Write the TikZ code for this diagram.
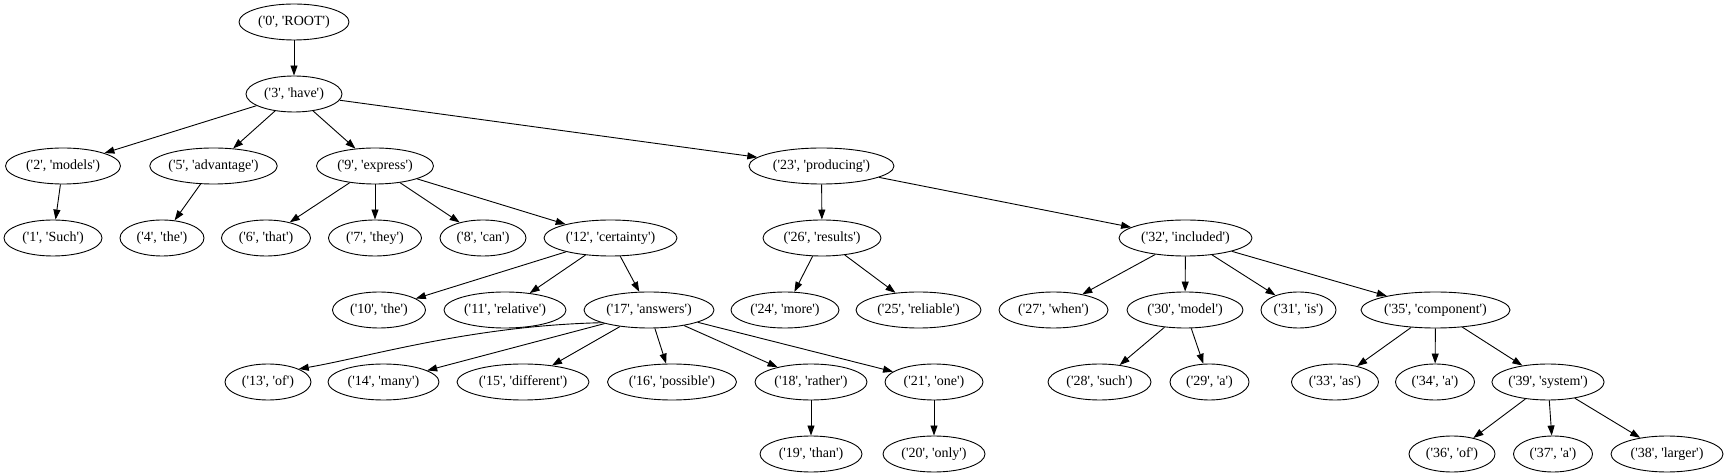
\documentclass[tikz,border=0pt]{standalone}
\usepackage{fontspec}
\setmainfont{Liberation Serif}
\usetikzlibrary{shapes.geometric,arrows.meta}
\newcommand\gq{\textquotesingle}
\newcommand\lab[2]{(\gq#1\gq, \gq#2\gq)}
\tikzset{
  tok/.style={ellipse,draw,line width=0.9pt,minimum height=36pt,inner sep=0pt,
    font=\fontsize{14}{16}\selectfont},
  dep/.style={line width=0.9pt,-{Triangle[length=10pt,width=7pt]}}
}
\begin{document}
\begin{tikzpicture}[x=1pt,y=1pt]
\useasboundingbox (0,0) rectangle (1728,476);
% rank y (image): 22,94,166,238,310,382,454 -> tikz 454,382,310,238,166,94,22
\node[tok,minimum width=110] (n0) at (294,454) {\lab{0}{ROOT}};
\node[tok,minimum width=96] (n3) at (294,382) {\lab{3}{have}};
\node[tok,minimum width=115] (n2) at (63,310) {\lab{2}{models}};
\node[tok,minimum width=115] (n5) at (213.5,310) {\lab{5}{advantage}};
\node[tok,minimum width=117] (n9) at (375,310) {\lab{9}{express}};
\node[tok,minimum width=145] (n23) at (821.5,310) {\lab{23}{producing}};
\node[tok,minimum width=98] (n1) at (53,238) {\lab{1}{Such}};
\node[tok,minimum width=84] (n4) at (162,238) {\lab{4}{the}};
\node[tok,minimum width=89] (n6) at (266,238) {\lab{6}{that}};
\node[tok,minimum width=93] (n7) at (375,238) {\lab{7}{they}};
\node[tok,minimum width=86] (n8) at (483,238) {\lab{8}{can}};
\node[tok,minimum width=133] (n12) at (610.5,238) {\lab{12}{certainty}};
\node[tok,minimum width=118] (n26) at (822,238) {\lab{26}{results}};
\node[tok,minimum width=133] (n32) at (1185.5,238) {\lab{32}{included}};
\node[tok,minimum width=93] (n10) at (379,166) {\lab{10}{the}};
\node[tok,minimum width=122] (n11) at (505,166) {\lab{11}{relative}};
\node[tok,minimum width=130] (n17) at (649,166) {\lab{17}{answers}};
\node[tok,minimum width=108] (n24) at (785,166) {\lab{24}{more}};
\node[tok,minimum width=125] (n25) at (918.5,166) {\lab{25}{reliable}};
\node[tok,minimum width=109] (n27) at (1053.5,166) {\lab{27}{when}};
\node[tok,minimum width=116] (n30) at (1185,166) {\lab{30}{model}};
\node[tok,minimum width=75] (n31) at (1298.5,166) {\lab{31}{is}};
\node[tok,minimum width=149] (n35) at (1435.5,166) {\lab{35}{component}};
\node[tok,minimum width=86] (n13) at (268,94) {\lab{13}{of}};
\node[tok,minimum width=111] (n14) at (383.5,94) {\lab{14}{many}};
\node[tok,minimum width=132] (n15) at (523,94) {\lab{15}{different}};
\node[tok,minimum width=129] (n16) at (672,94) {\lab{16}{possible}};
\node[tok,minimum width=112] (n18) at (811,94) {\lab{18}{rather}};
\node[tok,minimum width=98] (n21) at (934,94) {\lab{21}{one}};
\node[tok,minimum width=103] (n28) at (1099.5,94) {\lab{28}{such}};
\node[tok,minimum width=79] (n29) at (1209.5,94) {\lab{29}{a}};
\node[tok,minimum width=87] (n33) at (1335,94) {\lab{33}{as}};
\node[tok,minimum width=79] (n34) at (1435,94) {\lab{34}{a}};
\node[tok,minimum width=109] (n39) at (1548,94) {\lab{39}{system}};
\node[tok,minimum width=102] (n19) at (811,22) {\lab{19}{than}};
\node[tok,minimum width=102] (n20) at (934,22) {\lab{20}{only}};
\node[tok,minimum width=86] (n36) at (1452,22) {\lab{36}{of}};
\node[tok,minimum width=79] (n37) at (1553,22) {\lab{37}{a}};
\node[tok,minimum width=112] (n38) at (1667,22) {\lab{38}{larger}};
% edges
\draw[dep] (n0) -- (n3);
\draw[dep] (n3) -- (n2);
\draw[dep] (n3) -- (n5);
\draw[dep] (n3) -- (n9);
\draw[dep] (n3) -- (n23);
\draw[dep] (n2) -- (n1);
\draw[dep] (n5) -- (n4);
\draw[dep] (n9) -- (n6);
\draw[dep] (n9) -- (n7);
\draw[dep] (n9) -- (n8);
\draw[dep] (n9) -- (n12);
\draw[dep] (n12) -- (n10);
\draw[dep] (n12) -- (n11);
\draw[dep] (n12) -- (n17);
\draw[dep] (n17.195) .. controls +(-130,-3) and +(70,12) .. (n13.north east);
\draw[dep] (n17.197) -- (n14);
\draw[dep] (n17) -- (n15);
\draw[dep] (n17) -- (n16);
\draw[dep] (n17) -- (n18);
\draw[dep] (n17) -- (n21);
\draw[dep] (n18) -- (n19);
\draw[dep] (n21) -- (n20);
\draw[dep] (n23) -- (n26);
\draw[dep] (n23) -- (n32);
\draw[dep] (n26) -- (n24);
\draw[dep] (n26) -- (n25);
\draw[dep] (n32) -- (n27);
\draw[dep] (n32) -- (n30);
\draw[dep] (n32) -- (n31);
\draw[dep] (n32) -- (n35);
\draw[dep] (n30) -- (n28);
\draw[dep] (n30) -- (n29);
\draw[dep] (n35) -- (n33);
\draw[dep] (n35) -- (n34);
\draw[dep] (n35) -- (n39);
\draw[dep] (n39) -- (n36);
\draw[dep] (n39) -- (n37);
\draw[dep] (n39) -- (n38);
\end{tikzpicture}
\end{document}
